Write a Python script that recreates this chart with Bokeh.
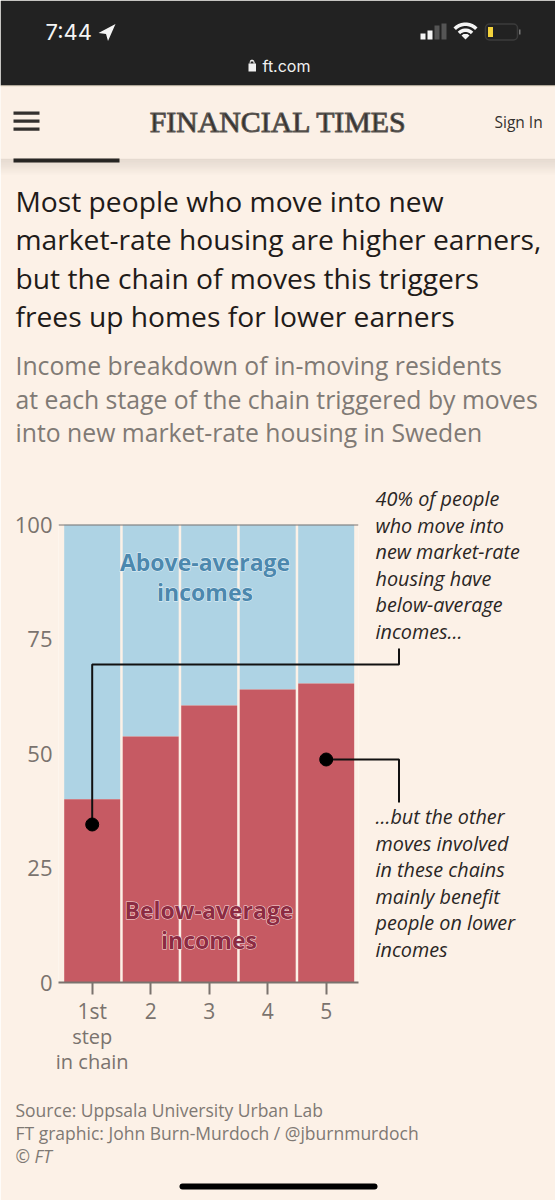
import math
from bokeh.plotting import figure
from bokeh.embed import file_html
from bokeh.resources import INLINE
from bokeh.models import Range1d, FixedTicker, Label, Span, BoxAnnotation, PolyAnnotation

steps = [1, 2, 3, 4, 5]
below_average = [40, 53.7, 60.5, 64, 65.3]
above_top = [100, 100, 100, 100, 100]
y_ticks = [0, 25, 50, 75, 100]
x_tick_labels = {1: "1st", 2: "2", 3: "3", 4: "4", 5: "5"}
title_lines = ["Most people who move into new", "market-rate housing are higher earners,",
               "but the chain of moves this triggers", "frees up homes for lower earners"]
subtitle_lines = ["Income breakdown of in-moving residents", "at each stage of the chain triggered by moves",
                  "into new market-rate housing in Sweden"]
note_top = ["40% of people", "who move into", "new market-rate", "housing have", "below-average", "incomes..."]
note_bottom = ["...but the other", "moves involved", "in these chains", "mainly benefit", "people on lower", "incomes"]
source_lines = ["Source: Uppsala University Urban Lab", "FT graphic: John Burn-Murdoch / @jburnmurdoch"]

BG = "#fcf1e7"
RED = "#c65a63"
BLUE = "#aed3e4"
AXIS = "#7a736e"
DARK = "#222222"
SANS = "Open Sans"

W, H = 555, 1200
FL, FR, FT, FB = 58, 358, 524, 982
PITCH = 58.5
xlo = 1 - (91.7 - FL) / PITCH
xhi = 5 + (FR - 325.7) / PITCH

def X(px):
    return xlo + (px - FL) / PITCH
def Y(py):
    return (FB - py) / (FB - FT) * 100

# chart layer, with its own scales and axes
c = figure(width=W, height=H, output_backend="svg", toolbar_location=None,
           x_range=Range1d(xlo, xhi), y_range=Range1d(0, 100),
           min_border_left=FL, min_border_right=W - FR, min_border_top=FT, min_border_bottom=H - FB,
           background_fill_color=BG, border_fill_color=BG, outline_line_color=None)
c.styles = {"position": "absolute", "left": "0px", "top": "0px"}
c.grid.visible = False
c.vbar(x=steps, width=0.957, bottom=below_average, top=above_top, fill_color=BLUE, line_color=None)
c.vbar(x=steps, width=0.957, bottom=0, top=below_average, fill_color=RED, line_color=None)

ya = c.yaxis[0]
ya.ticker = FixedTicker(ticks=y_ticks)
ya.major_tick_line_color = None
ya.minor_tick_line_color = None
ya.axis_line_color = None
ya.major_label_text_font = SANS
ya.major_label_text_font_size = "22px"
ya.major_label_text_color = AXIS
ya.major_label_standoff = 0

xa = c.xaxis[0]
xa.ticker = FixedTicker(ticks=steps)
xa.major_label_overrides = x_tick_labels
xa.axis_line_color = AXIS
xa.axis_line_width = 2
xa.major_tick_line_color = AXIS
xa.major_tick_line_width = 2
xa.major_tick_in = 0
xa.major_tick_out = 12
xa.minor_tick_line_color = None
xa.major_label_text_font = SANS
xa.major_label_text_font_size = "21px"
xa.major_label_text_color = AXIS
xa.major_label_standoff = 2
c.add_layout(Span(location=100, dimension="width", line_color=AXIS, line_width=2))

# transparent top layer on the same scales, whose frame is the whole page
p = figure(width=W, height=H, output_backend="svg", toolbar_location=None,
           x_range=Range1d(X(0), X(W)), y_range=Range1d(Y(H), Y(0)),
           min_border=0, background_fill_color=None, border_fill_color=None, outline_line_color=None,
           x_axis_location=None, y_axis_location=None)
p.grid.visible = False
p.styles = {"position": "absolute", "left": "0px", "top": "0px"}

def box(l, t, r, b, color, alpha=1.0, **kw):
    p.add_layout(BoxAnnotation(left=X(l), right=X(r), top=Y(t), bottom=Y(b), fill_color=color, fill_alpha=alpha,
                               line_color=kw.pop("line_color", None), **kw))
def poly(pts, color):
    p.add_layout(PolyAnnotation(xs=[X(a) for a, _ in pts], ys=[Y(b) for _, b in pts], fill_color=color,
                                fill_alpha=1, line_color=None))
def text(x, y, s, size, color, font=SANS, align="left", style="normal", **kw):
    p.add_layout(Label(x=X(x), y=Y(y), text=s, text_font=font, text_font_size=f"{size}px", text_color=color,
                       text_align=align, text_baseline="alphabetic", text_font_style=style, **kw))

# leaders and dots
line_color = "#111111"
p.line(x=[X(91.7), X(91.7), X(398.5), X(398.5)], y=[Y(824), Y(664), Y(664), Y(648)], line_color=line_color, line_width=2)
p.line(x=[X(326), X(398.5), X(398.5)], y=[Y(759), Y(759), Y(802)], line_color=line_color, line_width=2)
p.scatter(x=[1, 5], y=[Y(824), Y(759)], size=13, color="#000000")

# header bands
box(0, 0, W, 85, DARK)
box(0, 85, W, 86, "#cfc6ad")
box(13, 157, 119, 162, "#111111")
for i in range(8):
    box(0, 158 + i * 2, W, 160 + i * 2, "#8a8076", 0.20 - i * 0.025)
box(0, 86, W, 158, "#fbf0e6")
for yy in (111, 119, 127):
    box(13, yy, 39, yy + 3.2, "#33302e")
text(278, 121, "FINANCIAL TIMES", 29.8, "#33302e", font="Liberation Serif", align="center",
     text_outline_color="#5c5854")
text(494, 121, "Sign In", 15.5, "#33302e")

# status bar
text(45, 31, "7:44", 22, "#f5f5f5", font="Inter")
poly([(98, 32.5), (115, 23.5), (107.5, 40.5), (105.5, 33.5)], "#f5f5f5")
text(262, 65, "ft.com", 16, "#f0f0f0", font="Inter")
box(248, 63, 255.5, 71, "#f0f0f0")
poly([(249, 63), (249.5, 60), (251.5, 59), (253.5, 60), (254.5, 63), (253, 63), (252.8, 61), (250.2, 61), (250, 63)], "#f0f0f0")
for x0, top, col in ((420, 33, "#f5f5f5"), (427, 30, "#f5f5f5"), (434, 25, "#555555"), (441, 23, "#555555")):
    box(x0, top, x0 + 5, 39, col)
cx, cy = 465, 39
for r0, r1 in ((13.5, 17), (7.5, 11)):
    a = [math.radians(d) for d in range(-135, -44, 10)]
    pts = [(cx + r1 * math.cos(t), cy + r1 * math.sin(t)) for t in a] + \
          [(cx + r0 * math.cos(t), cy + r0 * math.sin(t)) for t in reversed(a)]
    poly(pts, "#f5f5f5")
poly([(465, 39), (461, 35), (463, 33.5), (467, 33.5), (469, 35)], "#f5f5f5")
box(485, 23.5, 517, 39.5, "#000000", 0.0, line_color="#777777", line_width=1.5, border_radius=4)
box(487.5, 26.5, 492.5, 36.5, "#f3d23c")
box(518.5, 29, 520, 34, "#777777")

# headings
for i, s in enumerate(title_lines):
    text(15, 200 + i * 38.5, s, 28.2, "#1f1b19")
for i, s in enumerate(subtitle_lines):
    text(15, 365 + i * 33.5, s, 24.75, "#807a75")

# notes
for i, s in enumerate(note_top):
    text(375, 498 + i * 26.5, s, 19.8, "#2a2624", style="italic")
for i, s in enumerate(note_bottom):
    text(375, 816 + i * 26.5, s, 19.8, "#2a2624", style="italic")

# remaining lines of the first tick label
text(91.7, 1036, "step", 20, AXIS, align="center")
text(91.7, 1061, "in chain", 20, AXIS, align="center")

# area labels with a pale halo
def area(x, s, y, col, halo):
    text(x, y, s, 23, halo, style="bold", align="center", text_outline_color=halo)
    text(x, y, s, 23, col, style="bold", align="center")
area(204.5, "Above-average", 561, "#4c88ae", "#e6f2f7")
area(204.5, "incomes", 591, "#4c88ae", "#e6f2f7")
area(208.5, "Below-average", 909, "#8c2b42", "#f6dcdc")
area(208.5, "incomes", 939, "#8c2b42", "#f6dcdc")

# source
for i, s in enumerate(source_lines):
    text(15, 1109 + i * 23, s, 17.5, "#7f7974")
text(15, 1155, "\u00a9 FT", 17.5, "#7f7974", style="italic")

# home indicator
box(179, 1183, 377, 1189, "#000000", border_radius=3)

open("out.html", "w").write(file_html([c, p], INLINE))
